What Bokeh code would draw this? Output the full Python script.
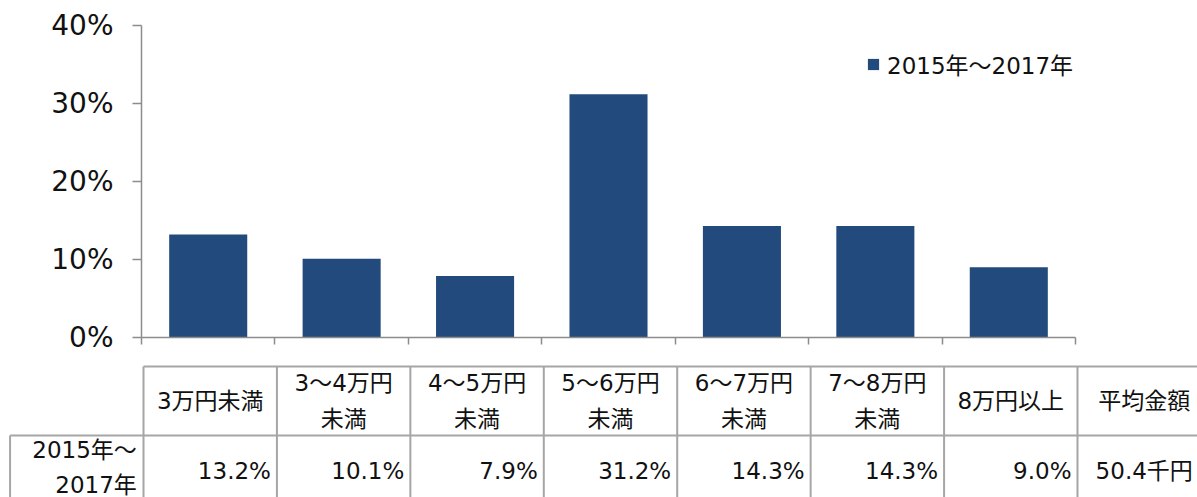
from bokeh.plotting import figure
from bokeh.models import (Range1d, FixedTicker, LinearAxis, Legend, LegendItem,
                          ColumnDataSource)
from bokeh.core.properties import value
from bokeh.embed import file_html
from bokeh.resources import INLINE

# ---- data -------------------------------------------------------------
categories = ["3万円未満", "3～4万円\n未満", "4～5万円\n未満", "5～6万円\n未満",
              "6～7万円\n未満", "7～8万円\n未満", "8万円以上"]
shares = [13.2, 10.1, 7.9, 31.2, 14.3, 14.3, 9.0]
series_name = "2015年～2017年"
row_label = "2015年～\n2017年"
avg_header = "平均金額"
avg_amount = 50.4
y_ticks = [0, 10, 20, 30, 40]
y_tick_labels = ["0%", "10%", "20%", "30%", "40%"]

FONT = "DejaVu Sans, Noto Sans CJK JP"
BAR = "#224A7C"
AXIS = "#8C8C8C"
GRID = "#A6A6A6"
INK = "#111111"

W = 1197
TOP_H = 355
BOT_H = 497 - TOP_H

# ---- bar chart ----------------------------------------------------------
n = len(categories)
xs = [i + 0.5 for i in range(n)]
src = ColumnDataSource(dict(x=xs, top=shares))

p = figure(width=W, height=TOP_H, x_range=Range1d(0, n), y_range=Range1d(0, 40),
           output_backend="svg", toolbar_location=None, x_axis_type=None,
           y_axis_type=None, min_border_left=141, min_border_right=122,
           min_border_top=25, min_border_bottom=18)
p.outline_line_color = None
p.xgrid.visible = False
p.ygrid.visible = False

bars = p.vbar(x="x", top="top", width=0.585, source=src, fill_color=BAR,
              line_color=None)

yaxis = LinearAxis(ticker=FixedTicker(ticks=y_ticks),
                   major_label_overrides=dict(zip(y_ticks, y_tick_labels)))
yaxis.axis_line_color = AXIS
yaxis.axis_line_width = 1.5
yaxis.major_tick_line_color = AXIS
yaxis.major_tick_line_width = 1.5
yaxis.major_tick_out = 9
yaxis.major_tick_in = 0
yaxis.minor_tick_line_color = None
yaxis.major_label_text_font = FONT
yaxis.major_label_text_font_size = "28px"
yaxis.major_label_text_color = INK
yaxis.major_label_standoff = 19
p.add_layout(yaxis, "left")

xaxis = LinearAxis(ticker=FixedTicker(ticks=list(range(n + 1))),
                   major_label_overrides={i: "" for i in range(n + 1)})
xaxis.axis_line_color = AXIS
xaxis.axis_line_width = 1.5
xaxis.major_tick_line_color = AXIS
xaxis.major_tick_line_width = 1.5
xaxis.major_tick_out = 7
xaxis.major_tick_in = 0
xaxis.minor_tick_line_color = None
xaxis.major_label_text_font_size = "1px"
xaxis.major_label_standoff = 0
p.add_layout(xaxis, "below")

legend = Legend(items=[LegendItem(label=series_name, renderers=[bars])],
                location=(725, 256), padding=0, margin=0,
                border_line_color=None, background_fill_alpha=0,
                glyph_width=14, glyph_height=14, label_standoff=7,
                label_text_font=FONT, label_text_font_size="23px",
                label_text_color=INK, label_height=14)
p.add_layout(legend, "center")

# ---- data table below the chart ----------------------------------------
unit = 934 / n
x_start = -143 / unit
x_end = n + (W - 143 - 934) / unit
t = figure(width=W, height=BOT_H, x_range=Range1d(x_start, x_end),
           y_range=Range1d(497, TOP_H), output_backend="svg",
           toolbar_location=None, x_axis_type=None, y_axis_type=None,
           min_border=0)
t.outline_line_color = None
t.xgrid.visible = False
t.ygrid.visible = False

head_top, head_bot, row_bot = 366, 435, 505
# grid lines
t.segment(x0=[0, -1], y0=[head_top, head_bot], x1=[n + 1, n + 1],
          y1=[head_top, head_bot], line_color=GRID, line_width=2)
vx = list(range(n + 2))
t.segment(x0=vx, y0=[head_top] * len(vx), x1=vx, y1=[row_bot] * len(vx),
          line_color=GRID, line_width=2)
t.segment(x0=[-1], y0=[head_bot], x1=[-1], y1=[row_bot], line_color=GRID,
          line_width=2)

head_y = (head_top + head_bot) / 2
row_y = (head_bot + row_bot) / 2
headers = categories + [avg_header]
t.text(x=[i + 0.5 for i in range(n + 1)], y=[head_y] * (n + 1), text=headers,
       text_align="center", text_baseline="middle", text_font=value(FONT),
       text_font_size="23px", text_color=INK, text_line_height=1.42)

cells = [f"{v:.1f}%" for v in shares]
t.text(x=[i + 1 - 0.045 for i in range(n)], y=[row_y] * n, text=cells,
       text_align="right", text_baseline="middle", text_font=value(FONT),
       text_font_size="23px", text_color=INK)
t.text(x=[n + 0.5], y=[row_y], text=[f"{avg_amount:.1f}千円"],
       text_align="center", text_baseline="middle", text_font=value(FONT),
       text_font_size="23px", text_color=INK)
t.text(x=[-0.05], y=[row_y - 3], text=[row_label], text_align="right",
       text_baseline="middle", text_font=value(FONT), text_font_size="23px",
       text_color=INK, text_line_height=1.33)

open("out.html", "w").write(file_html([p, t], INLINE))
